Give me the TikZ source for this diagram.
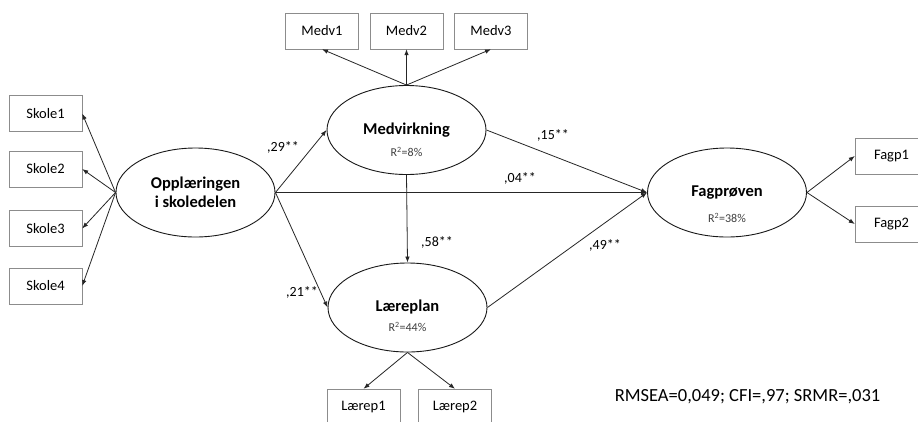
\documentclass[tikz,border=0pt]{standalone}
\usepackage{fontspec}
\setmainfont{Carlito}
\usetikzlibrary{shapes.geometric,arrows.meta}

\tikzset{
  obsbox/.style={draw=black!45, fill=white, minimum width=73pt, minimum height=36pt, inner sep=0pt, font=\fontsize{14.5}{16}\selectfont},
  latent/.style={ellipse, draw=black!90, line width=0.9pt, minimum width=159pt, minimum height=89pt, inner sep=0pt, align=center, font=\fontsize{16.5}{19}\selectfont\bfseries},
  rsq/.style={text=black!75, font=\fontsize{12}{14}\selectfont},
  coef/.style={font=\fontsize{14}{16}\selectfont},
  link/.style={draw=black!85, line width=0.8pt, -{Latex[length=6pt,width=4.5pt]}},
}

\begin{document}
\begin{tikzpicture}[x=1pt,y=-1pt]
        \useasboundingbox[fill=white] (0,0) rectangle (918,421);

        % latent variables
        \node[latent] (opp) at (195.5,192.5) {Opplæringen\\i skoledelen};
        \node[latent] (medv) at (406.5,130) {Medvirkning};
        \node[latent] (lp) at (407.5,307.5) {Læreplan};
        \node[latent] (fag) at (727,192.5) {Fagprøven};

        \node[rsq] (medvR) at (406.5,152) {R\textsuperscript{2}=8\%};
        \node[rsq] (lpR) at (407.5,327) {R\textsuperscript{2}=44\%};
        \node[rsq] (fagR) at (727,218) {R\textsuperscript{2}=38\%};

        % indicators
        \node[obsbox] (skole1) at (45.5,113.5) {Skole1};
        \node[obsbox] (skole2) at (45.5,169) {Skole2};
        \node[obsbox] (skole3) at (45.5,228.5) {Skole3};
        \node[obsbox] (skole4) at (45.5,286) {Skole4};

        \node[obsbox] (medv1) at (322,31) {Medv1};
        \node[obsbox] (medv2) at (406.5,31) {Medv2};
        \node[obsbox] (medv3) at (491,31) {Medv3};

        \node[obsbox] (lp1) at (363.5,407) {Lærep1};
        \node[obsbox] (lp2) at (455,407) {Lærep2};

        \node[obsbox] (fagp1) at (891.5,156) {Fagp1};
        \node[obsbox] (fagp2) at (891.5,224) {Fagp2};

        % loadings
        \draw[link] (opp.west) -- (skole1.east);
        \draw[link] (opp.west) -- (skole2.east);
        \draw[link] (opp.west) -- (skole3.east);
        \draw[link] (opp.west) -- (skole4.east);

        \draw[link] (medv.north) -- (medv1.south);
        \draw[link] (medv.north) -- (medv2.south);
        \draw[link] (medv.north) -- (medv3.south);

        \draw[link] (lp.south) -- (lp1.north);
        \draw[link] (lp.south) -- (lp2.north);

        \draw[link] (fag.east) -- (fagp1.west);
        \draw[link] (fag.east) -- (fagp2.west);

        % structural paths
        \draw[link] (opp.east) -- (medv.west);
        \draw[link] (opp.east) -- (lp.west);
        \draw[link] (opp.east) -- (fag.west);
        \draw[link] (medv.south) -- (lp.north);
        \draw[link] (medv.east) -- (fag.west);
        \draw[link] (lp.east) -- (fag.west);

        \node[coef] (c29) at (283,147) {,29**};
        \node[coef] (c21) at (302,292) {,21**};
        \node[coef] (c58) at (437,242) {,58**};
        \node[coef] (c04) at (520,178) {,04**};
        \node[coef] (c15) at (553,135) {,15**};
        \node[coef] (c49) at (605,245) {,49**};

        % model fit
        \node[font=\fontsize{18.5}{21}\selectfont] (fit) at (747.5,397) {RMSEA=0,049; CFI=,97; SRMR=,031};
    \end{tikzpicture}
\end{document}
